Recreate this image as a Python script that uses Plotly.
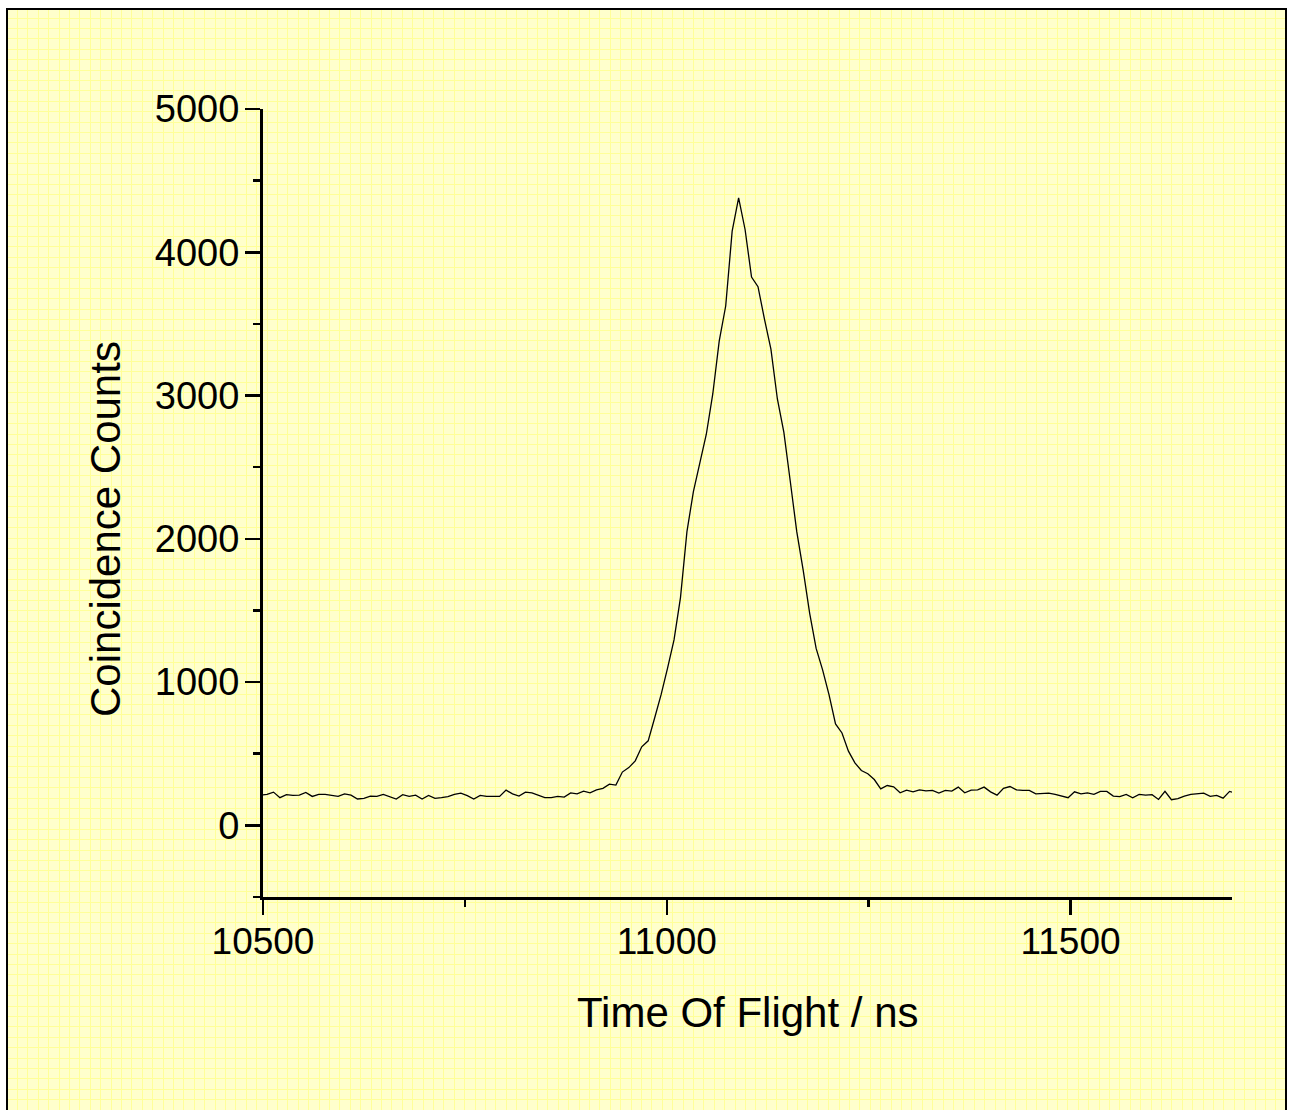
import plotly.graph_objects as go

W, H = 1293, 1110

# ---- data ----
t_start = 10497   # ns, first bin centre
t_step = 8        # ns, bin width
counts = [
    211, 216, 232, 193, 214, 209, 211, 230, 202, 216,
    216, 209, 202, 220, 211, 184, 188, 204, 202, 216,
    200, 184, 214, 202, 211, 184, 209, 188, 193, 200,
    216, 225, 207, 184, 209, 202, 202, 202, 246, 220,
    204, 232, 227, 211, 193, 193, 202, 197, 227, 220,
    239, 227, 248, 258, 288, 281, 372, 403, 450, 548,
    590, 749, 912, 1097, 1294, 1590, 2050, 2330, 2530, 2730,
    3011, 3382, 3625, 4147, 4379, 4159, 3827, 3760, 3533, 3324,
    2976, 2744, 2400, 2050, 1780, 1480, 1235, 1085, 911, 708,
    645, 518, 436, 383, 360, 320, 255, 278, 269, 227,
    246, 234, 248, 241, 244, 225, 244, 239, 267, 227,
    246, 248, 267, 234, 211, 258, 271, 248, 244, 244,
    220, 225, 225, 216, 204, 193, 234, 220, 227, 216,
    237, 237, 204, 200, 216, 193, 216, 211, 214, 181,
    237, 179, 186, 204, 216, 220, 225, 202, 209, 190,
    237, 225,
]
x_range = [10500, 11700]
y_range = [-500, 5000]
x_ticks = [10500, 11000, 11500]
y_ticks = [0, 1000, 2000, 3000, 4000, 5000]
x_title = "Time Of Flight / ns"
y_title = "Coincidence Counts"

FONT = "Arial, Liberation Sans, Helvetica, sans-serif"
BG = "#FFFFCC"
GRID = "#FFFF99"

# pixel geometry
frame_l, frame_r, frame_t = 7, 1286, 9
ax_l, ax_r, ax_t, ax_b = 263, 1232, 109, 897

fig = go.Figure()

# invisible trace to establish the background (grid) subplot
fig.add_trace(go.Scatter(x=[None], y=[None], xaxis="x", yaxis="y",
                         showlegend=False, hoverinfo="skip"))

fig.add_trace(go.Scatter(
    x0=t_start, dx=t_step, y=counts,
    mode="lines", line=dict(color="black", width=1.3),
    xaxis="x2", yaxis="y2", showlegend=False,
))

fig.update_layout(
    width=W, height=H, autosize=False, showlegend=False,
    margin=dict(l=0, r=0, t=0, b=0, pad=0, autoexpand=False),
    paper_bgcolor="white",
    plot_bgcolor="rgba(0,0,0,0)",
    font=dict(family=FONT, color="black"),
    xaxis=dict(
        domain=[frame_l / W, frame_r / W], range=[0, frame_r - frame_l],
        showgrid=True, gridcolor=GRID, gridwidth=1, dtick=10.4, tick0=0,
        showticklabels=False, ticks="", showline=False, zeroline=False,
        fixedrange=True, anchor="y", automargin=False,
    ),
    yaxis=dict(
        domain=[0, (H - frame_t) / H], range=[0, H - frame_t],
        showgrid=True, gridcolor=GRID, gridwidth=1, dtick=10.4, tick0=0,
        showticklabels=False, ticks="", showline=False, zeroline=False,
        fixedrange=True, anchor="x", automargin=False,
    ),
    xaxis2=dict(
        domain=[ax_l / W, ax_r / W], range=x_range, anchor="y2",
        showgrid=False, zeroline=False, automargin=False,
        showline=True, linecolor="black", linewidth=3,
        ticks="outside", ticklen=15, tickwidth=2.5, tickcolor="black",
        tickvals=x_ticks, ticktext=[str(v) for v in x_ticks],
        tickfont=dict(family=FONT, size=37, color="black"),
        ticklabelstandoff=-5,
        minor=dict(dtick=250, tick0=10500, ticks="outside", ticklen=7,
                   tickwidth=2.5, tickcolor="black", showgrid=False),
    ),
    yaxis2=dict(
        domain=[(H - ax_b) / H, (H - ax_t) / H], range=y_range, anchor="x2",
        showgrid=False, zeroline=False, automargin=False,
        showline=True, linecolor="black", linewidth=3,
        ticks="outside", ticklen=15, tickwidth=2.5, tickcolor="black",
        tickvals=y_ticks, ticktext=[str(v) for v in y_ticks],
        tickfont=dict(family=FONT, size=38, color="black"),
        ticklabelstandoff=-2,
        minor=dict(dtick=500, tick0=0, ticks="outside", ticklen=7,
                   tickwidth=2.5, tickcolor="black", showgrid=False),
    ),
    shapes=[
        dict(type="rect", xref="paper", yref="paper",
             x0=frame_l / W, x1=frame_r / W, y0=-0.05, y1=(H - frame_t) / H,
             fillcolor=BG, line=dict(width=0), layer="below"),
        dict(type="rect", xref="paper", yref="paper",
             x0=frame_l / W, x1=frame_r / W, y0=-0.05, y1=(H - frame_t) / H,
             fillcolor="rgba(0,0,0,0)", line=dict(color="black", width=2),
             layer="above"),
    ],
    annotations=[
        dict(text=x_title, xref="paper", yref="paper",
             x=747.5 / W, y=1 - 1012 / H, xanchor="center", yanchor="middle",
             showarrow=False, font=dict(family=FONT, size=42, color="black")),
        dict(text=y_title, xref="paper", yref="paper", textangle=-90,
             x=105 / W, y=1 - 529 / H, xanchor="center", yanchor="middle",
             showarrow=False, font=dict(family=FONT, size=42, color="black")),
    ],
)

fig.write_html(
    "out.html",
    config={"displayModeBar": False, "staticPlot": True},
    post_script="document.body.style.margin='0px';document.body.style.overflow='hidden';",
)
